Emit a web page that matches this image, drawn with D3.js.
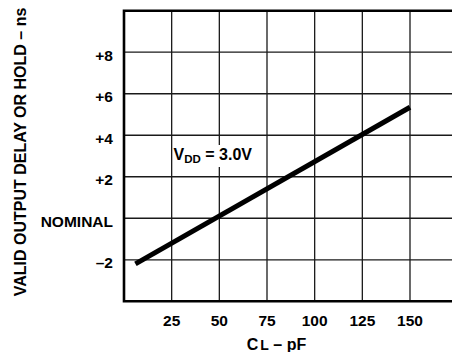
<!DOCTYPE html>
<html>
<head>
<meta charset="utf-8">
<script src="https://cdn.jsdelivr.net/npm/d3@7"></script>
<style>
  body { margin: 0; background: #fff; }
  text { font-family: 'Liberation Sans', Arial, sans-serif; font-weight: bold; fill: #000; }
</style>
</head>
<body>
<div id="canvas-div"></div>
<script>
// x axis: load capacitance (pF)
const xTicks = [25, 50, 75, 100, 125, 150];
const xGrid = [25, 50, 75, 100, 125, 150, 175];
// y axis: delay change (ns)
const yTicks = [-2, 0, 2, 4, 6, 8];
const yTickLabels = ['\u20132', 'NOMINAL', '+2', '+4', '+6', '+8'];
// V_DD = 3.0V curve
const capValues = [6, 150];
const delayValues = [-2.2, 5.35];

const w = 452;
const h = 352;

const svg = d3.select('#canvas-div').append('svg').attr('width', w).attr('height', h);

const xScale = d3.scaleLinear().domain([0, 150]).range([124, 410]);
const yScale = d3.scaleLinear().domain([-4, 10]).range([301.3, 10.7]);

const plotLeft = xScale(0);
const plotTop = yScale(10);
const plotBottom = yScale(-4);

// grid
svg.selectAll('.vgrid')
   .data(xGrid)
   .enter()
   .append('line')
   .attr('class', 'vgrid')
   .attr('x1', d => xScale(d)).attr('x2', d => xScale(d))
   .attr('y1', plotTop).attr('y2', plotBottom)
   .attr('stroke', '#1a1a1a')
   .attr('stroke-width', 1.3);

svg.selectAll('.hgrid')
   .data(yTicks)
   .enter()
   .append('line')
   .attr('class', 'hgrid')
   .attr('x1', plotLeft).attr('x2', w)
   .attr('y1', d => yScale(d)).attr('y2', d => yScale(d))
   .attr('stroke', '#1a1a1a')
   .attr('stroke-width', 1.3);

// frame (open on the right, runs off the page)
svg.append('path')
   .attr('d', `M${w},${plotTop}H${plotLeft}V${plotBottom}H${w}`)
   .attr('fill', 'none')
   .attr('stroke', '#000')
   .attr('stroke-width', 2.6);

// tick labels
svg.selectAll('.ylab')
   .data(yTicks)
   .enter()
   .append('text')
   .attr('class', 'ylab')
   .attr('x', 113)
   .attr('y', d => yScale(d) + 8.5)
   .attr('text-anchor', 'end')
   .attr('font-size', 15.5)
   .text((d, i) => yTickLabels[i]);

svg.selectAll('.xlab')
   .data(xTicks)
   .enter()
   .append('text')
   .attr('class', 'xlab')
   .attr('x', d => xScale(d))
   .attr('y', plotBottom + 25)
   .attr('text-anchor', 'middle')
   .attr('font-size', 15.5)
   .text(d => d);

// axis titles
const xTitle = svg.append('text')
   .attr('x', xScale(80))
   .attr('y', 350)
   .attr('text-anchor', 'middle')
   .attr('font-size', 16);
xTitle.append('tspan').text('C');
xTitle.append('tspan').attr('dx', 2).attr('font-size', 14).text('L');
xTitle.append('tspan').text(' \u2013 pF');

svg.append('text')
   .attr('transform', `translate(26, ${(plotBottom + plotTop) / 2 - 4}) rotate(-90)`)
   .attr('text-anchor', 'middle')
   .attr('font-size', 16)
   .text('VALID OUTPUT DELAY OR HOLD \u2013 ns');

// curve
const line = d3.line()
   .x((d, i) => xScale(capValues[i]))
   .y(d => yScale(d));

svg.append('path')
   .datum(delayValues)
   .attr('d', line)
   .attr('fill', 'none')
   .attr('stroke', '#000')
   .attr('stroke-width', 5);

// curve label with white backing
svg.append('rect')
   .attr('x', 174)
   .attr('y', 145)
   .attr('width', 79)
   .attr('height', 22)
   .attr('fill', '#fff');

const vdd = svg.append('text')
   .attr('x', 173.5)
   .attr('y', 159.5)
   .attr('font-size', 16);
vdd.append('tspan').text('V');
vdd.append('tspan').attr('font-size', 11.5).attr('dy', 3).text('DD');
vdd.append('tspan').attr('dy', -3).text(' = 3.0V');
</script>
</body>
</html>
